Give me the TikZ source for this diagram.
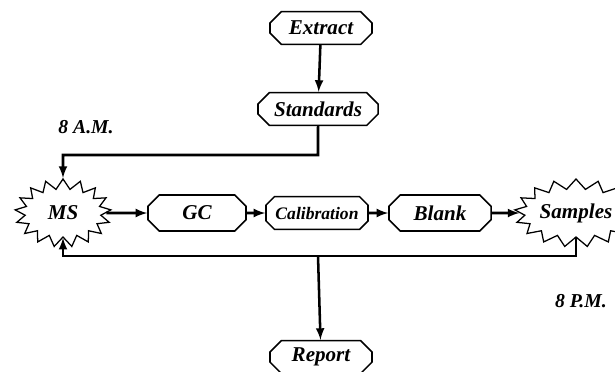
\documentclass[tikz,border=0pt]{standalone}
\usepackage{fontspec}
\setmainfont{Liberation Serif}
\usetikzlibrary{shapes.misc,shapes.symbols,arrows}
\tikzset{
  stepbox/.style={draw, line width=1.1pt, chamfered rectangle, chamfered rectangle xsep=5pt,
    minimum width=2.55cm, minimum height=0.82cm, inner sep=1pt,
    font=\fontsize{15}{17}\selectfont\bfseries\itshape},
  burst/.style={draw, line width=0.9pt, starburst, starburst points=17, starburst point height=0.25cm,
    random starburst=0, minimum width=2.4cm, minimum height=1.7cm, inner sep=0pt,
    font=\fontsize{15}{17}\selectfont\bfseries\itshape},
  link/.style={-latex, line width=1.8pt},
}
\begin{document}
\begin{tikzpicture}[x=0.025cm, y=-0.025cm]
    \useasboundingbox (0,0) rectangle (615,371);
    \node[stepbox] (extract) at (321,28) {Extract};
    \node[stepbox, minimum width=3cm] (standards) at (318,109) {Standards};
    \node[burst] (ms) at (63,213) {MS};
    \node[stepbox, minimum width=2.45cm, minimum height=0.9cm] (gc) at (197,213) {GC};
    \node[stepbox, chamfered rectangle xsep=3pt, font=\fontsize{12.5}{14}\selectfont\bfseries\itshape] (cal) at (317,213) {Calibration};
    \node[stepbox, minimum height=0.9cm] (blank) at (440,213) {Blank};
    \node[burst, minimum width=2.2cm] (samples) at (576,213) {Samples};
    \node[stepbox] (report) at (321,357) {Report};
    \node[font=\fontsize{14}{16}\selectfont\bfseries\itshape] (am) at (86,127) {8 A.M.};
    \node[font=\fontsize{14}{16}\selectfont\bfseries\itshape] (pm) at (581,301) {8 P.M.};
    \coordinate (top) at (318,155);
    \coordinate (fb) at (318,256);
    \draw[link] (extract) -- (standards);
    \draw[link] (standards) -- (top) -| (ms.north);
    \draw[link] (ms) -- (gc);
    \draw[link] (gc) -- (cal);
    \draw[link] (cal) -- (blank);
    \draw[link] (blank) -- (samples);
    \draw[link] (samples.south) |- (fb) -| (ms.south);
    \draw[link] (fb) -- (report);
  \end{tikzpicture}
\end{document}
